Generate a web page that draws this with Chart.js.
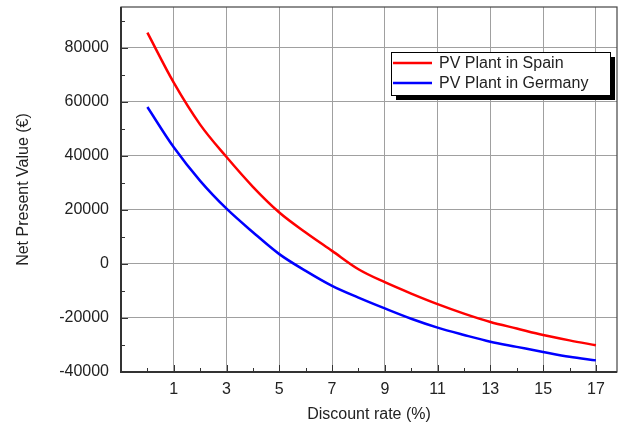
<!DOCTYPE html>
<html>
<head>
<meta charset="utf-8">
<script src="https://cdn.jsdelivr.net/npm/chart.js@4.4.1/dist/chart.umd.min.js"></script>
<style>
  html, body { margin: 0; padding: 0; background: #fff; }
  #wrap { width: 624px; height: 430px; }
</style>
</head>
<body>
<div id="wrap"><canvas id="npvChart" width="624" height="430"></canvas></div>
<script>
// discount rate (%) and net present value (EUR)
const rates = [0, 1, 2, 3, 4, 5, 6, 7, 8, 9, 10, 11, 12, 13, 14, 15, 16, 17];
const spain = [85500, 67000, 51500, 39500, 28500, 19000, 11600, 4800, -2000, -6800,
    -11000, -14900, -18400, -21500, -23900, -26300, -28300, -30100];
const germany = [58000, 43100, 30700, 20400, 11700, 3600, -2600, -8150, -12500, -16500,
    -20300, -23600, -26300, -28800, -30700, -32600, -34400, -35700];
const xTickLabels = [1, 3, 5, 7, 9, 11, 13, 15, 17];
const yTickLabels = [-40000, -20000, 0, 20000, 40000, 60000, 80000];
const seriesNames = ['PV Plant in Spain', 'PV Plant in Germany'];

const FONT = 'Arial, "Liberation Sans", sans-serif';
Chart.defaults.font.family = FONT;
Chart.defaults.font.size = 16;
Chart.defaults.color = '#222';

// frame, inside ticks and the boxed legend with its shadow
const frameAndLegend = {
    id: 'frameAndLegend',
    afterDatasetsDraw(chart) {
        const c = chart.ctx;
        const a = chart.chartArea;
        const xs = chart.scales.x, ys = chart.scales.y;
        c.save();
        // ticks (inside)
        c.strokeStyle = '#333';
        c.lineWidth = 1;
        for (let v = 0; v <= 17; v++) {
            const px = Math.round(xs.getPixelForValue(v)) + 0.5;
            const len = v % 2 === 1 ? 7 : 4;
            c.beginPath();
            c.moveTo(px, a.bottom);
            c.lineTo(px, a.bottom - len);
            c.stroke();
        }
        for (let v = -30000; v <= 90000; v += 10000) {
            const py = Math.round(ys.getPixelForValue(v)) + 0.5;
            const len = v % 20000 === 0 ? 7 : 4;
            c.beginPath();
            c.moveTo(a.left, py);
            c.lineTo(a.left + len, py);
            c.stroke();
        }
        // frame
        c.strokeStyle = '#444';
        c.lineWidth = 1.2;
        c.strokeRect(a.left, a.top, a.right - a.left, a.bottom - a.top);
        c.strokeStyle = '#333';
        c.lineWidth = 2;
        c.beginPath();
        c.moveTo(a.left, a.top);
        c.lineTo(a.left, a.bottom);
        c.lineTo(a.right, a.bottom);
        c.stroke();

        // legend
        const bx = 391, by = 52, bw = 219, bh = 43;
        c.fillStyle = '#000';
        c.fillRect(bx + 5, by + 5, bw, bh);
        c.fillStyle = '#fff';
        c.fillRect(bx, by, bw, bh);
        c.strokeStyle = '#000';
        c.lineWidth = 1;
        c.strokeRect(bx + 0.5, by + 0.5, bw, bh);
        c.font = '16px ' + FONT;
        c.textBaseline = 'middle';
        chart.data.datasets.forEach((ds, i) => {
            const yy = by + 11 + i * 20;
            c.strokeStyle = ds.borderColor;
            c.lineWidth = 2.5;
            c.beginPath();
            c.moveTo(bx + 2, yy);
            c.lineTo(bx + 41, yy);
            c.stroke();
            c.fillStyle = '#222';
            c.fillText(ds.label, bx + 48, yy + 1);
        });
        c.restore();
    }
};

const ctx = document.getElementById('npvChart');
const npvChart = new Chart(ctx, {
    type: 'line',
    data: {
        labels: rates,
        datasets: [
            {
                label: seriesNames[0],
                data: rates.map((r, i) => ({x: r, y: spain[i]})),
                borderColor: '#ff0000',
                borderWidth: 2.5,
                pointRadius: 0,
                cubicInterpolationMode: 'monotone',
                fill: false
            },
            {
                label: seriesNames[1],
                data: rates.map((r, i) => ({x: r, y: germany[i]})),
                borderColor: '#0000ff',
                borderWidth: 2.5,
                pointRadius: 0,
                cubicInterpolationMode: 'monotone',
                fill: false
            }
        ]
    },
    options: {
        responsive: false,
        animation: false,
        layout: { padding: { top: 7, right: 7, left: 0, bottom: 0 } },
        plugins: {
            legend: { display: false },
            tooltip: { enabled: false }
        },
        scales: {
            x: {
                type: 'linear',
                min: -1,
                max: 17.8,
                afterBuildTicks(scale) {
                    scale.ticks = xTickLabels.map(v => ({value: v}));
                },
                afterFit(scale) {
                    scale.height = 58;
                    scale.paddingLeft = 0;
                    scale.paddingRight = 0;
                },
                ticks: { color: '#222', padding: 8, maxRotation: 0, autoSkip: false },
                grid: { color: '#a0a0a0', lineWidth: 1, drawTicks: false },
                border: { display: false },
                title: {
                    display: true,
                    text: 'Discount rate (%)',
                    color: '#222',
                    padding: { top: 4, bottom: 6 }
                }
            },
            y: {
                min: -40000,
                max: 95000,
                afterBuildTicks(scale) {
                    scale.ticks = yTickLabels.map(v => ({value: v}));
                },
                afterFit(scale) {
                    scale.width = 121;
                    scale.paddingTop = 0;
                    scale.paddingBottom = 0;
                },
                ticks: { color: '#222', padding: 12, callback: v => String(v) },
                grid: { color: '#a0a0a0', lineWidth: 1, drawTicks: false },
                border: { display: false },
                title: {
                    display: true,
                    text: 'Net Present Value (€)',
                    color: '#222',
                    padding: { top: 14, bottom: 0 }
                }
            }
        }
    },
    plugins: [frameAndLegend]
});
</script>
</body>
</html>
